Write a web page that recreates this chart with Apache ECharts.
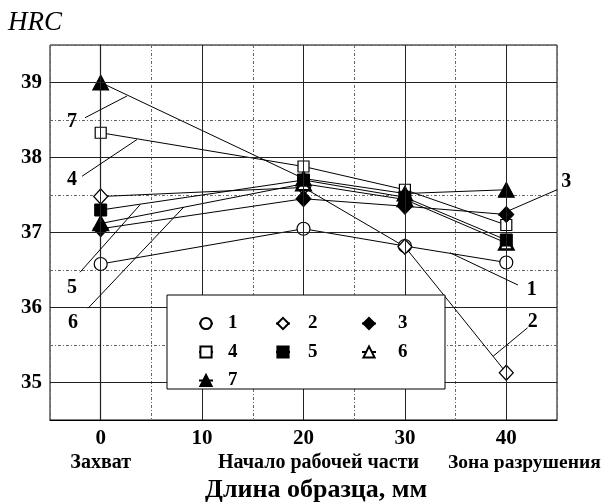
<!DOCTYPE html>
<html><head><meta charset="utf-8">
<script src="https://cdn.jsdelivr.net/npm/echarts@6/dist/echarts.min.js"></script>
<style>html,body{margin:0;padding:0;background:#fff}#c{width:604px;height:504px}</style>
</head><body><div id="c"></div>
<script>
// ---- data ----
const xVals = [0, 20, 30, 40];
const s1 = [36.58, 37.05, 36.82, 36.60];
const s2 = [37.48, 37.60, 36.81, 35.13];
const s3 = [37.05, 37.45, 37.35, 37.24];
const s4 = [38.33, 37.88, 37.57, 37.10];
const s5 = [37.30, 37.70, 37.47, 36.90];
const s6 = [37.12, 37.65, 37.44, 36.86];
const s7 = [39.00, 37.72, 37.52, 37.57];
const seriesNames = ['1', '2', '3', '4', '5', '6', '7'];
const xTickLabels = [0, 10, 20, 30, 40];
const yTickLabels = [35, 36, 37, 38, 39];
const catTicks = [0, 20, 40];
const catNames = ['Захват', 'Начало рабочей части', 'Зона разрушения'];
const xTitle = 'Длина образца, мм';
const yTitle = 'HRC';
// annotation leaders (data coordinates)
const noteText = ['7', '4', '5', '6', '3', '1', '2'];
const notePos = [[-2.83, 38.47], [-2.83, 37.70], [-2.83, 36.26], [-2.73, 35.79], [45.9, 37.67], [42.5, 36.23], [42.6, 35.81]];
const noteFrom = [[-1.55, 38.53], [-1.84, 37.75], [-2.04, 36.47], [-1.25, 35.99], [45.0, 37.57], [41.15, 36.30], [42.1, 35.73]];
const noteTo = [[2.59, 38.82], [3.58, 38.24], [3.88, 37.37], [8.2, 37.34], [39.2, 37.23], [34.45, 36.73], [38.7, 35.35]];

const F = 'Liberation Serif';
const allSeries = [s1, s2, s3, s4, s5, s6, s7];
const sym = [
  {symbol: 'circle', symbolSize: 13, fill: '#fff', bw: 1.2, z: 2},
  {symbol: 'diamond', symbolSize: [14, 15], fill: '#fff', bw: 1.2, z: 2},
  {symbol: 'diamond', symbolSize: [15, 16], fill: '#000', bw: 1, z: 4},
  {symbol: 'rect', symbolSize: 11, fill: '#fff', bw: 1.2, z: 2},
  {symbol: 'rect', symbolSize: 12, fill: '#000', bw: 1, z: 4},
  {symbol: 'triangle', symbolSize: [14, 13], fill: '#fff', bw: 2.5, z: 3},
  {symbol: 'triangle', symbolSize: [16, 15], fill: '#000', bw: 1, z: 3}
];

const chart = echarts.init(document.getElementById('c'), null, {renderer: 'canvas'});
const series = allSeries.map((vals, i) => ({
  name: seriesNames[i], type: 'line', z: sym[i].z,
  data: xVals.map((x, j) => [x, vals[j]]),
  symbol: sym[i].symbol, symbolSize: sym[i].symbolSize,
  lineStyle: {color: '#000', width: 1},
  itemStyle: {color: sym[i].fill, borderColor: '#000', borderWidth: sym[i].bw},
  emphasis: {disabled: true}, animation: false
}));
series.unshift({
  type: 'line', data: [], z: 1, silent: true, animation: false,
  markLine: {
    silent: true, symbol: 'none', animation: false, label: {show: false},
    lineStyle: {color: '#222', width: 1, type: 'solid'},
    data: yTickLabels.map(v => ({yAxis: v})).concat(xTickLabels.map(v => ({xAxis: v})))
  }
});

const mkLegend = (names, left, pad) => ({
  orient: 'vertical', left: left, top: 314, padding: 0, itemGap: 9.5,
  itemWidth: 14, itemHeight: 14, data: names,
  textStyle: {fontFamily: F, fontWeight: 'bold', fontSize: 19, color: '#000', padding: [0, 0, 0, pad]},
  selectedMode: false, z: 10
});

chart.setOption({
  animation: false,
  title: [
    {text: yTitle, left: 8, top: 9, padding: 0, textStyle: {fontFamily: F, fontStyle: 'italic', fontWeight: 'normal', fontSize: 27, color: '#000'}},
    {text: xTitle, left: 205, top: 477, padding: 0, textStyle: {fontFamily: F, fontWeight: 'bold', fontSize: 26, color: '#000'}}
  ],
  grid: {left: 50, top: 45, width: 507, height: 375, show: true, borderColor: '#000', borderWidth: 1, backgroundColor: 'transparent'},
  xAxis: {
    type: 'value', min: -5, max: 45, interval: 5,
    axisLine: {show: true, lineStyle: {color: '#000', width: 1.2}},
    axisTick: {show: false},
    splitLine: {show: true, lineStyle: {color: '#666', width: 1, type: [3, 2, 1, 2]}},
    axisLabel: {
      margin: 7, color: '#000',
      formatter: function (v) {
        if (xTickLabels.indexOf(v) < 0) return '';
        const k = catTicks.indexOf(v);
        return '{n|' + v + '}' + (k >= 0 ? '\n{c' + k + '|' + catNames[k] + '}' : '\n{c0| }');
      },
      rich: {
        n: {fontFamily: F, fontWeight: 'bold', fontSize: 21, lineHeight: 24, color: '#000'},
        c0: {fontFamily: F, fontWeight: 'bold', fontSize: 20, lineHeight: 24, color: '#000'},
        c1: {fontFamily: F, fontWeight: 'bold', fontSize: 20, lineHeight: 24, color: '#000', padding: [0, 0, 0, 30]},
        c2: {fontFamily: F, fontWeight: 'bold', fontSize: 19.5, lineHeight: 24, color: '#000', padding: [0, 0, 0, 36]}
      }
    }
  },
  yAxis: {
    type: 'value', min: 34.5, max: 39.5, interval: 0.5,
    axisLine: {show: true, lineStyle: {color: '#000', width: 1.2}},
    axisTick: {show: false},
    splitLine: {show: true, lineStyle: {color: '#666', width: 1, type: [3, 2, 1, 2]}},
    axisLabel: {
      margin: 8, color: '#000', fontFamily: F, fontWeight: 'bold', fontSize: 21,
      formatter: v => (yTickLabels.indexOf(v) >= 0 ? String(v) : '')
    }
  },
  legend: [mkLegend(['1', '4', '7'], 198, 10), mkLegend(['2', '5'], 275, 13), mkLegend(['3', '6'], 361, 17)],
  series: series
});

// legend frame and annotation leaders
const g = [{type: 'rect', shape: {x: 167, y: 295, width: 278, height: 94}, style: {fill: '#fff', stroke: '#000', lineWidth: 1}, z: 5}];
noteText.forEach((t, i) => {
  const a = chart.convertToPixel({gridIndex: 0}, noteFrom[i]);
  const b = chart.convertToPixel({gridIndex: 0}, noteTo[i]);
  const p = chart.convertToPixel({gridIndex: 0}, notePos[i]);
  g.push({type: 'line', shape: {x1: a[0], y1: a[1], x2: b[0], y2: b[1]}, style: {stroke: '#000', lineWidth: 1}, z: 6});
  g.push({type: 'text', x: p[0], y: p[1], style: {text: t, font: 'bold 20px "Liberation Serif"', fill: '#000', align: 'center', verticalAlign: 'middle'}, z: 6});
});
chart.setOption({graphic: g});
</script>
</body></html>
